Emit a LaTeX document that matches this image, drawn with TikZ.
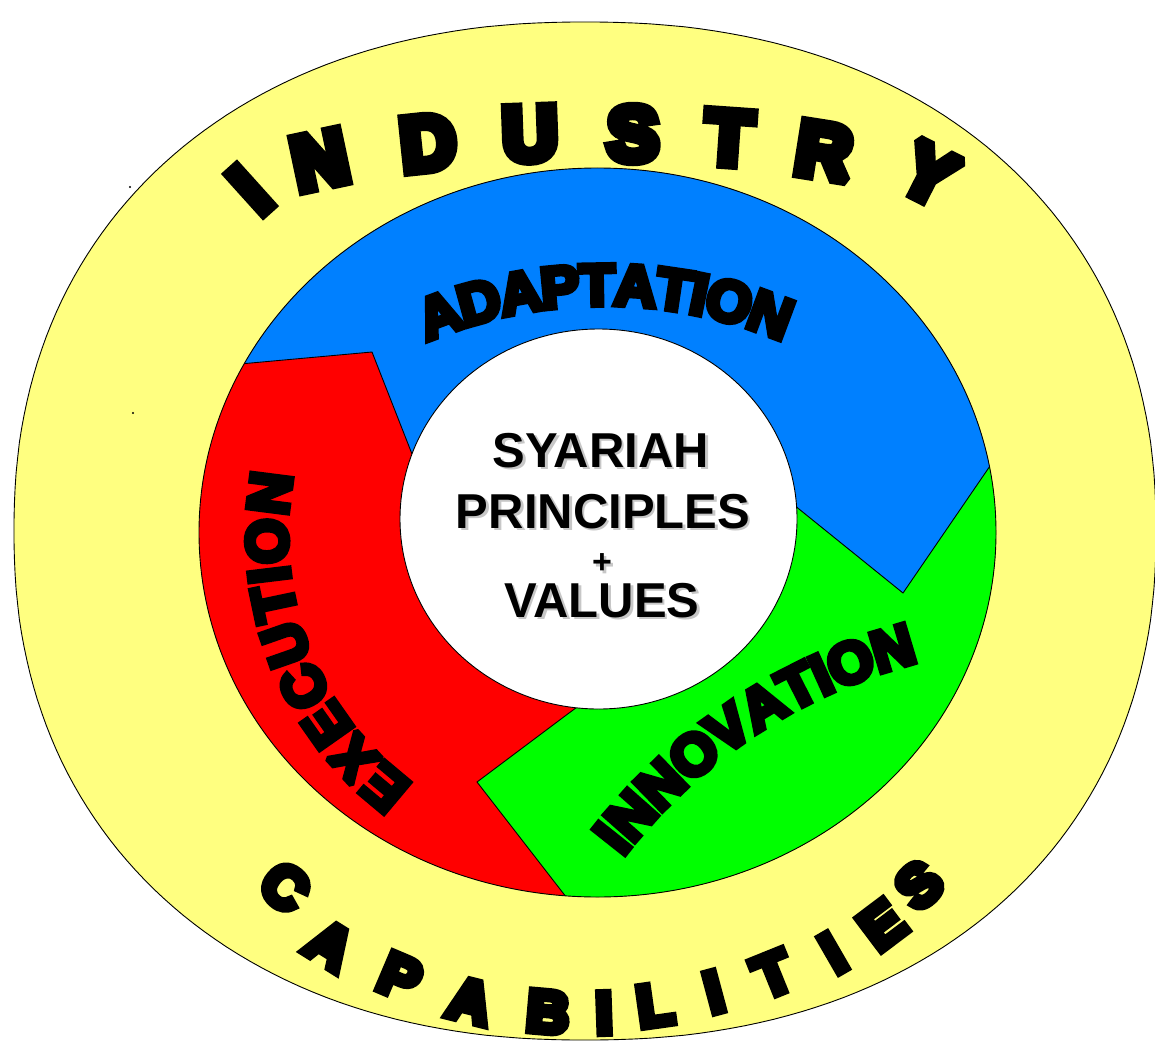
\documentclass[tikz,border=0pt]{standalone}
\usepackage{fontspec}
\setmainfont{Liberation Sans}
\newfontfamily\heavyfont[FakeBold=14]{Liberation Sans Bold}
\newfontfamily\segfont[FakeBold=10]{Liberation Sans Bold}
\definecolor{ylw}{RGB}{255,255,128}
\definecolor{blu}{RGB}{0,128,255}
\definecolor{rd}{RGB}{255,0,0}
\definecolor{grn}{RGB}{0,255,0}
\newcommand{\shadtext}[1]{\makebox[0pt][l]{\hspace*{2.5pt}\raisebox{-2.5pt}{\textcolor{black!22}{#1}}}#1}
\begin{document}
\begin{tikzpicture}[x=1pt,y=-1pt, line join=miter, miter limit=2,
  edge/.style={draw=black, line width=0.9pt},
  hv/.style={inner sep=0pt, outer sep=0pt, anchor=center, text=black, line join=miter, miter limit=2},
  ind/.style={hv, font=\heavyfont\fontsize{76}{76}\selectfont},
  capl/.style={hv, font=\heavyfont\fontsize{58}{58}\selectfont},
  seg/.style={hv, font=\segfont\fontsize{58}{58}\selectfont},
  ctr/.style={inner sep=0pt, anchor=base, font=\bfseries\fontsize{49}{49}\selectfont}]
\useasboundingbox (0,0) rectangle (1155,1059);
\fill[white] (0,0) rectangle (1155,1059);
% outer yellow band
\filldraw[fill=ylw, edge] plot[domain=0.75:360.75, samples=241]
  ({585+571*sign(cos(\x))*(abs(cos(\x)))^(0.9091)},
   {531-509*sign(sin(\x))*(abs(sin(\x)))^(0.9091)}) -- cycle;
\fill (130,187) circle[radius=1.1pt];
\fill (133,413) circle[radius=1.1pt];
% ring boundary points
\coordinate (rc) at (597.5,532.5);
\coordinate (ic) at (598.5,519);
\coordinate (p1o) at (244.4,363.6);
\coordinate (t1) at (372,352);
\coordinate (p1i) at (412,454);
\coordinate (p2o) at (989.5,466.7);
\coordinate (t2) at (903,593);
\coordinate (p2i) at (796.6,507.1);
\coordinate (p3o) at (565.2,895.8);
\coordinate (t3) at (477,782);
\coordinate (p3i) at (576,707.8);
\begin{scope}
  \clip (rc) ellipse [x radius=398.5pt, y radius=364.5pt];
  \fill[rd] (0,0) rectangle (1155,1059);
  \fill[blu] (ic) -- (p1i) -- (t1) -- (p1o) -- (191,338) -- (150,100) -- (1050,100)
     -- (1048,457) -- (p2o) -- (t2) -- (p2i) -- cycle;
  \fill[grn] (ic) -- (p2i) -- (t2) -- (p2o) -- (1048,457) -- (1100,1000) -- (560,950)
     -- (p3o) -- (t3) -- (p3i) -- cycle;
\end{scope}
\draw[edge] (rc) ellipse [x radius=398.5pt, y radius=364.5pt];
\draw[edge] (p1o) -- (t1) -- (p1i);
\draw[edge] (p2o) -- (t2) -- (p2i);
\draw[edge] (p3o) -- (t3) -- (p3i);
\filldraw[fill=white, edge] (ic) ellipse [x radius=198.5pt, y radius=190pt];
% centre text
\node[ctr] (c1) at (601,467) {\shadtext{SYARIAH}};
\node[ctr] (c2) at (603,528) {\shadtext{PRINCIPLES}};
\node[inner sep=0pt, font=\bfseries\fontsize{34}{34}\selectfont] (c3) at (602,565) {\shadtext{+}};
\node[ctr] (c4) at (602,617) {\shadtext{VALUES}};
% INDUSTRY
\node[ind, rotate=42] (in1) at (250,190) {I};
\node[ind, rotate=12] (in2) at (320,160) {N};
\node[ind, rotate=6] (in3) at (428,143) {D};
\node[ind, rotate=2] (in4) at (530,134) {U};
\node[ind, rotate=0] (in5) at (633,134) {S};
\node[ind, rotate=-4] (in6) at (729,138) {T};
\node[ind, rotate=-9] (in7) at (824,151) {R};
\node[ind, rotate=-27] (in8) at (929,174) {Y};
% CAPABILITIES
\node[capl, rotate=-40] (ca1) at (285,887) {C};
\node[capl, rotate=-32] (ca2) at (330,945) {A};
\node[capl, rotate=-23] (ca3) at (400,977) {P};
\node[capl, rotate=-14] (ca4) at (470,1001) {A};
\node[capl, rotate=-5] (ca5) at (548,1012) {B};
\node[capl, rotate=2] (ca6) at (604,1013) {I};
\node[capl, rotate=8] (ca7) at (655,1005) {L};
\node[capl, rotate=15] (ca8) at (714,992) {I};
\node[capl, rotate=22] (ca9) at (773,974) {T};
\node[capl, rotate=30] (ca10) at (833,953) {I};
\node[capl, rotate=37] (ca11) at (882,925) {E};
\node[capl, rotate=43] (ca12) at (919,885) {S};
% ADAPTATION
\node[seg, rotate=20.4] (ad1) at (439.4,314.8) {A};
\node[seg, rotate=15.4] (ad2) at (479.2,302.0) {D};
\node[seg, rotate=10.3] (ad3) at (520.1,292.6) {A};
\node[seg, rotate=5.4] (ad4) at (560.0,287.1) {P};
\node[seg, rotate=1.0] (ad5) at (597.0,285.1) {T};
\node[seg, rotate=-3.7] (ad6) at (635.6,286.0) {A};
\node[seg, rotate=-8.4] (ad7) at (674.1,290.0) {T};
\node[seg, rotate=-11.5] (ad8) at (699.4,294.5) {I};
\node[seg, rotate=-15.2] (ad9) at (729.2,301.5) {O};
\node[seg, rotate=-20.4] (ad10) at (770.6,314.8) {N};
% EXECUTION
\node[seg, rotate=140.0] (ex1) at (384.8,787.7) {E};
\node[seg, rotate=132.6] (ex2) at (354.1,758.3) {X};
\node[seg, rotate=125.1] (ex3) at (327.2,725.0) {E};
\node[seg, rotate=117.4] (ex4) at (304.0,686.8) {C};
\node[seg, rotate=109.3] (ex5) at (285.6,644.3) {U};
\node[seg, rotate=101.9] (ex6) at (274.1,603.1) {T};
\node[seg, rotate=96.9] (ex7) at (269.4,574.9) {I};
\node[seg, rotate=91.1] (ex8) at (267.1,541.2) {O};
\node[seg, rotate=82.7] (ex9) at (269.7,493.1) {N};
% INNOVATION
\node[seg, rotate=51.6] (nv1) at (611.8,838.3) {I};
\node[seg, rotate=48.6] (nv2) at (631.0,815.4) {N};
\node[seg, rotate=44.2] (nv3) at (660.6,784.3) {N};
\node[seg, rotate=39.7] (nv4) at (693.9,754.3) {O};
\node[seg, rotate=35.3] (nv5) at (728.0,728.2) {V};
\node[seg, rotate=31.1] (nv6) at (762.8,705.5) {A};
\node[seg, rotate=27.0] (nv7) at (797.5,686.2) {T};
\node[seg, rotate=24.3] (nv8) at (821.3,674.7) {I};
\node[seg, rotate=21.1] (nv9) at (850.4,662.6) {O};
\node[seg, rotate=16.6] (nv10) at (892.7,648.1) {N};
\end{tikzpicture}
\end{document}
